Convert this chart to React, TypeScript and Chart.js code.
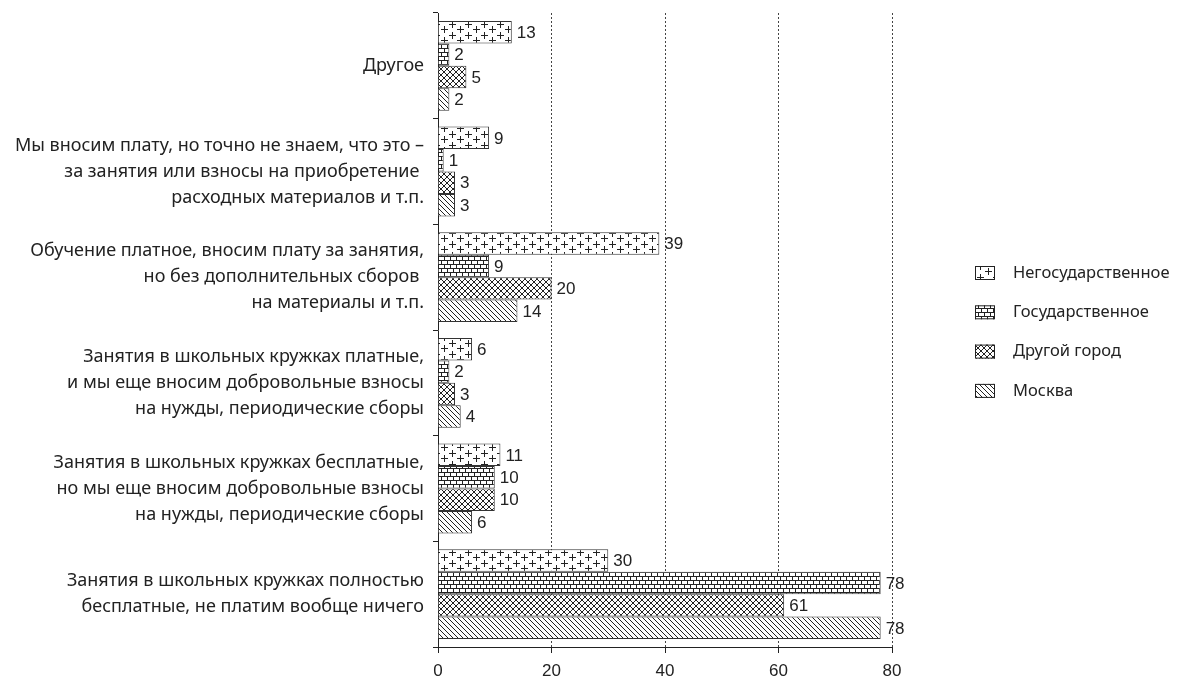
import { useEffect, useRef } from 'react';
import { Chart, registerables } from 'chart.js';

Chart.register(...registerables);

const categories: string[][] = [
  ['Другое'],
  ['Мы вносим плату, но точно не знаем, что это –', 'за занятия или взносы на приобретение ', 'расходных материалов и т.п.'],
  ['Обучение платное, вносим плату за занятия,', 'но без дополнительных сборов ', 'на материалы и т.п.'],
  ['Занятия в школьных кружках платные,', 'и мы еще вносим добровольные взносы', 'на нужды, периодические сборы'],
  ['Занятия в школьных кружках бесплатные,', 'но мы еще вносим добровольные взносы', 'на нужды, периодические сборы'],
  ['Занятия в школьных кружках полностью', 'бесплатные, не платим вообще ничего'],
];

const seriesNames = ['Негосударственное', 'Государственное', 'Другой город', 'Москва'];
const nonStateValues = [13, 9, 39, 6, 11, 30];
const stateValues = [2, 1, 9, 2, 10, 78];
const otherCityValues = [5, 3, 20, 3, 10, 61];
const moscowValues = [2, 3, 14, 4, 6, 78];
const xTicks = [0, 20, 40, 60, 80];

const INK = '#222';
const LABEL_FONT = "'Noto Sans', 'DejaVu Sans', sans-serif";
const NUM_FONT = "'Liberation Sans Narrow', 'Liberation Sans', Arial, sans-serif";

function makeTile(w: number, h: number, draw: (c: CanvasRenderingContext2D) => void): CanvasPattern {
  const cv = document.createElement('canvas');
  cv.width = w;
  cv.height = h;
  const c = cv.getContext('2d')!;
  c.fillStyle = '#fff';
  c.fillRect(0, 0, w, h);
  c.strokeStyle = INK;
  c.lineWidth = 1;
  draw(c);
  return c.createPattern(cv, 'repeat')!;
}

function plusPattern() {
  return makeTile(16, 11, (c) => {
    c.beginPath();
    const plus = (x: number, y: number) => {
      c.moveTo(x - 3, y + 0.5); c.lineTo(x + 4, y + 0.5);
      c.moveTo(x + 0.5, y - 3); c.lineTo(x + 0.5, y + 4);
    };
    plus(4, 2);
    plus(12, 7);
    plus(12, -4);
    plus(4, 13);
    c.stroke();
  });
}

function brickPattern() {
  return makeTile(12, 8, (c) => {
    c.beginPath();
    c.moveTo(0, 0.5); c.lineTo(12, 0.5);
    c.moveTo(0, 4.5); c.lineTo(12, 4.5);
    c.moveTo(0.5, 0); c.lineTo(0.5, 4);
    c.moveTo(6.5, 0); c.lineTo(6.5, 4);
    c.moveTo(3.5, 4); c.lineTo(3.5, 8);
    c.moveTo(9.5, 4); c.lineTo(9.5, 8);
    c.stroke();
  });
}

function crossPattern() {
  return makeTile(6, 6, (c) => {
    c.beginPath();
    c.moveTo(0, 0); c.lineTo(6, 6);
    c.moveTo(6, 0); c.lineTo(0, 6);
    c.stroke();
  });
}

function diagPattern() {
  return makeTile(5, 5, (c) => {
    c.beginPath();
    c.moveTo(-1, -1); c.lineTo(6, 6);
    c.moveTo(-1, 4); c.lineTo(1, 6);
    c.moveTo(4, -1); c.lineTo(6, 1);
    c.stroke();
  });
}

const valueLabels = {
  id: 'valueLabels',
  afterDatasetsDraw(chart: any) {
    const ctx = chart.ctx;
    ctx.save();
    ctx.font = `17px ${NUM_FONT}`;
    ctx.fillStyle = INK;
    ctx.textAlign = 'left';
    ctx.textBaseline = 'middle';
    chart.data.datasets.forEach((ds: any, i: number) => {
      const meta = chart.getDatasetMeta(i);
      meta.data.forEach((bar: any, j: number) => {
        ctx.fillText(String(ds.data[j]), bar.x + 5, bar.y + 1);
      });
    });
    ctx.restore();
  },
};

const sideLegend = {
  id: 'sideLegend',
  afterDraw(chart: any) {
    const ctx = chart.ctx;
    ctx.save();
    ctx.font = `16.5px ${LABEL_FONT}`;
    ctx.textBaseline = 'middle';
    ctx.textAlign = 'left';
    const x0 = 975;
    const y0 = 273;
    const step = 39.3;
    chart.data.datasets.forEach((ds: any, i: number) => {
      const y = y0 + i * step;
      ctx.fillStyle = ds.backgroundColor;
      ctx.fillRect(x0, y - 7, 20, 14);
      ctx.strokeStyle = INK;
      ctx.lineWidth = 1;
      ctx.strokeRect(x0 + 0.5, y - 6.5, 19, 13);
      ctx.fillStyle = INK;
      ctx.fillText(ds.label, 1013, y);
    });
    ctx.restore();
  },
};

export default function App() {
  const ref = useRef<HTMLCanvasElement | null>(null);

  useEffect(() => {
    if (!ref.current) return;
    const patterns = [plusPattern(), brickPattern(), crossPattern(), diagPattern()];
    const values = [nonStateValues, stateValues, otherCityValues, moscowValues];
    const chart = new Chart(ref.current, {
      type: 'bar',
      data: {
        labels: categories,
        datasets: seriesNames.map((name, i) => ({
          label: name,
          data: values[i],
          backgroundColor: patterns[i] as any,
          borderColor: '#333',
          borderWidth: 1,
          categoryPercentage: 0.85,
          barPercentage: 1,
        })),
      },
      options: {
        indexAxis: 'y',
        animation: false,
        responsive: false,
        maintainAspectRatio: false,
        layout: { padding: { top: 13, right: 295, left: 0, bottom: 0 } },
        plugins: {
          legend: { display: false },
          tooltip: { enabled: false },
        },
        scales: {
          x: {
            min: 0,
            max: 80,
            afterBuildTicks: (s: any) => { s.ticks = xTicks.map((v) => ({ value: v })); },
            afterFit: (s: any) => { s.height = 32; },
            border: { display: true, color: INK, width: 1, dash: [2, 2] } as any,
            grid: {
              color: (c: any) => (c.tick && c.tick.value === 0 ? 'rgba(0,0,0,0)' : '#444'),
              lineWidth: 1,
              drawTicks: true,
              tickLength: 6,
              tickColor: INK,
              tickBorderDash: [],
            } as any,
            ticks: {
              color: INK,
              font: { family: NUM_FONT, size: 17 },
              padding: 8,
              maxRotation: 0,
            },
          },
          y: {
            afterFit: (s: any) => { s.width = 438; s.paddingTop = 0; s.paddingBottom = 0; },
            border: { display: true, color: INK, width: 1 },
            grid: {
              offset: true,
              drawOnChartArea: false,
              drawTicks: true,
              tickLength: 5,
              tickColor: INK,
            },
            ticks: {
              color: INK,
              font: { family: LABEL_FONT, size: 18, lineHeight: 1.444 },
              padding: 9,
              autoSkip: false,
            },
          },
        },
      },
      plugins: [valueLabels, sideLegend],
    });
    return () => chart.destroy();
  }, []);

  return (
    <div style={{ position: 'absolute', left: 0, top: 0, width: 1187, height: 679, background: '#fff' }}>
      <canvas ref={ref} width={1187} height={679} style={{ display: 'block' }} />
    </div>
  );
}
